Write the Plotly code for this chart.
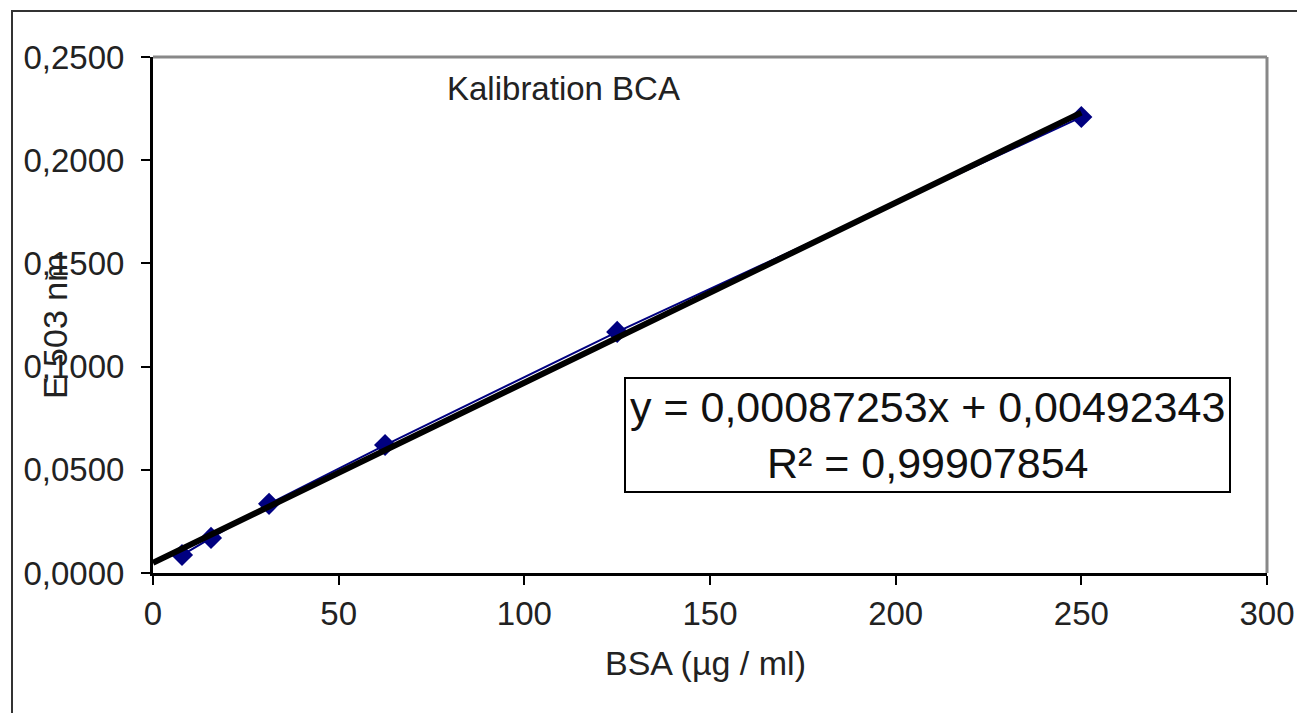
import plotly.graph_objects as go

# Data
bsa = [7.8125, 15.625, 31.25, 62.5, 125, 250]
absorbance = [0.0087, 0.0170, 0.0335, 0.0620, 0.1168, 0.2209]
slope = 0.00087253
intercept = 0.00492343
fit_x = [0, 250]
fit_y = [intercept + slope * v for v in fit_x]

x_ticks = [0, 50, 100, 150, 200, 250, 300]
y_ticks = [0.0, 0.05, 0.10, 0.15, 0.20, 0.25]

OFF = 8  # default page body margin
W, H = 1305 - 2 * OFF, 721 - 2 * OFF
# plot area in reference-screen pixels
PL, PR, PT, PB = 153, 1267, 57, 573
L, R, T, B = PL - OFF, W - (PR - OFF), PT - OFF, H - (PB - OFF)
pw, ph = PR - PL, PB - PT


def px(xs):
    return (xs - PL) / pw


def py(ys):
    return (PB - ys) / ph


FONT = "Liberation Sans, Arial, sans-serif"
TXT = "#222"

fig = go.Figure()
fig.add_trace(go.Scatter(
    x=bsa, y=absorbance, mode="lines+markers",
    line=dict(color="#000080", width=2),
    marker=dict(symbol="diamond", size=17, color="#000080"),
    showlegend=False,
))
fig.add_trace(go.Scatter(
    x=fit_x, y=fit_y, mode="lines",
    line=dict(color="black", width=6),
    showlegend=False,
))

fig.update_layout(
    width=W, height=H,
    margin=dict(l=L, r=R, t=T, b=B, autoexpand=False),
    paper_bgcolor="white", plot_bgcolor="white",
    separators=",.",
    font=dict(family=FONT, size=33, color=TXT),
    xaxis=dict(range=[0, 300], tickvals=x_ticks, showgrid=False, zeroline=False,
               automargin=False,
               showline=True, linecolor="black", linewidth=3,
               ticks="outside", ticklen=9, tickwidth=2, tickcolor="black",
               ticklabelstandoff=0,
               tickfont=dict(size=33, family=FONT, color=TXT)),
    yaxis=dict(range=[0, 0.25], tickvals=y_ticks, tickformat=".4f",
               showgrid=False, zeroline=False, automargin=False,
               showline=True, linecolor="black", linewidth=3,
               ticks="outside", ticklen=9, tickwidth=2, tickcolor="black",
               ticklabelstandoff=10,
               tickfont=dict(size=33, family=FONT, color=TXT)),
    shapes=[
        dict(type="line", xref="paper", yref="paper", x0=0, x1=1, y0=1, y1=1,
             line=dict(color="#888", width=3)),
        dict(type="line", xref="paper", yref="paper", x0=1, x1=1, y0=0, y1=1,
             line=dict(color="#888", width=3)),
        dict(type="rect", xref="paper", yref="paper",
             x0=px(12), x1=px(1330), y0=py(740), y1=py(11),
             line=dict(color="#333", width=2), layer="below"),
    ],
    annotations=[
        dict(text="Kalibration BCA", xref="paper", yref="paper",
             x=px(563), y=py(88), xanchor="center", yanchor="middle",
             showarrow=False, font=dict(size=33, family=FONT, color=TXT)),
        dict(text="BSA (µg / ml)", xref="paper", yref="paper",
             x=px(705), y=py(663), xanchor="center", yanchor="middle",
             showarrow=False, font=dict(size=34, family=FONT, color=TXT)),
        dict(text="E 503 nm", xref="paper", yref="paper",
             x=px(55), y=py(326), xanchor="center", yanchor="middle",
             showarrow=False, textangle=-90,
             font=dict(size=34, family=FONT, color=TXT)),
        dict(text="y = 0,00087253x + 0,00492343<br>R² = 0,99907854",
             xref="paper", yref="paper", x=px(927), y=py(435),
             xanchor="center", yanchor="middle",
             showarrow=False, align="center",
             bordercolor="black", borderwidth=2, borderpad=4, bgcolor="white",
             font=dict(size=43, family=FONT, color="#111")),
    ],
)

fig.write_html("out.html")
